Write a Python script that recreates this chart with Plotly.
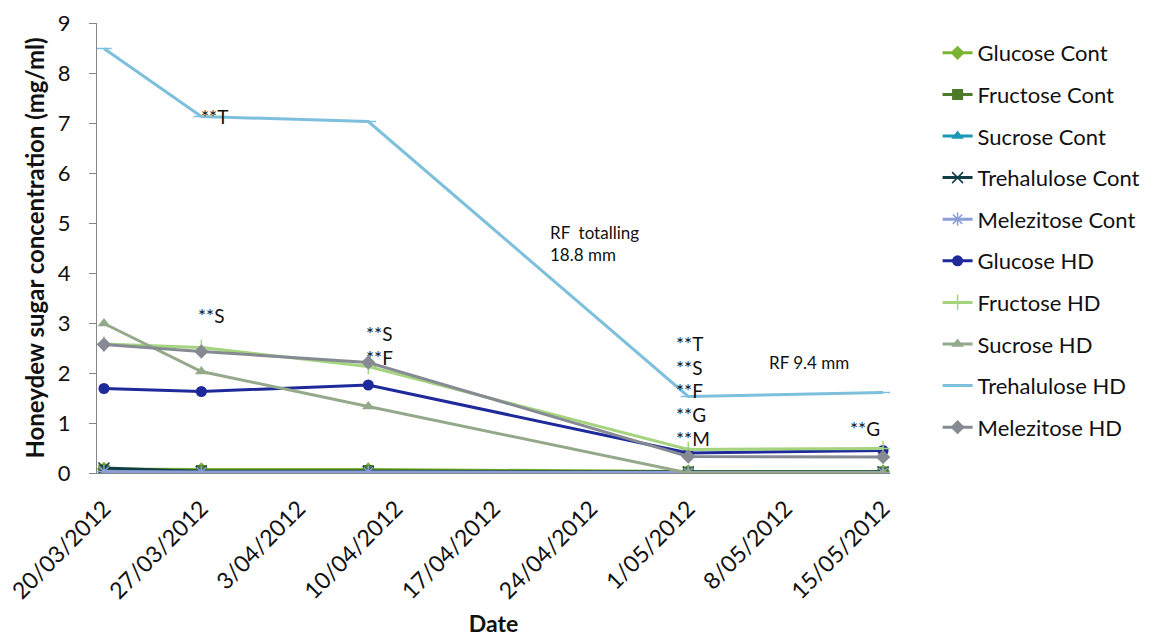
import plotly.graph_objects as go

# Sampling dates
dates = ["2012-03-20", "2012-03-27", "2012-04-08", "2012-05-01", "2012-05-15"]

# Honeydew sugar concentrations (mg/ml)
glucose_cont = [0.08, 0.07, 0.07, 0.03, 0.03]
fructose_cont = [0.06, 0.05, 0.05, 0.02, 0.02]
sucrose_cont = [0.0, 0.0, 0.0, 0.0, 0.0]
trehalulose_cont = [0.10, 0.03, 0.03, 0.02, 0.02]
melezitose_cont = [0.03, 0.02, 0.02, 0.01, 0.01]
glucose_hd = [1.69, 1.63, 1.76, 0.40, 0.45]
fructose_hd = [2.58, 2.51, 2.13, 0.47, 0.49]
sucrose_hd = [2.99, 2.03, 1.33, 0.0, 0.0]
trehalulose_hd = [8.49, 7.13, 7.03, 1.53, 1.61]
melezitose_hd = [2.57, 2.43, 2.21, 0.33, 0.32]

series_names = ["Glucose Cont", "Fructose Cont", "Sucrose Cont", "Trehalulose Cont",
                "Melezitose Cont", "Glucose HD", "Fructose HD", "Sucrose HD",
                "Trehalulose HD", "Melezitose HD"]
series_values = [glucose_cont, fructose_cont, sucrose_cont, trehalulose_cont,
                 melezitose_cont, glucose_hd, fructose_hd, sucrose_hd,
                 trehalulose_hd, melezitose_hd]
series_colors = ["#7ab432", "#4b7a28", "#1a98b8", "#113d47", "#8c9ed6",
                 "#1f2a9a", "#a5d47f", "#94a98a", "#7ec0dc", "#858a93"]
series_symbols = ["diamond", "square", "triangle-up", "x-thin-open", "asterisk-open",
                  "circle", "cross-thin-open", "triangle-up", "line-ew-open", "diamond"]

# Significance notes: (date, y, text, anchor, horizontal shift in px)
notes = [
    ("2012-03-27", 7.14, "**T", "left", -2),
    ("2012-03-27", 3.16, "**S", "left", -5),
    ("2012-04-08", 2.80, "**S", "left", -4),
    ("2012-04-08", 2.32, "**F", "left", -4),
    ("2012-05-01", 2.60, "**T", "left", -14),
    ("2012-05-01", 2.12, "**S", "left", -14),
    ("2012-05-01", 1.66, "**F", "left", -14),
    ("2012-05-01", 1.17, "**G", "left", -14),
    ("2012-05-01", 0.69, "**M", "left", -14),
    ("2012-05-15", 0.90, "**G", "right", -1),
]

# Rainfall notes
rain_notes = [
    ("2012-04-20 22:00", 4.59, "RF  totalling<br>18.8 mm", "left"),
    ("2012-05-09 17:00", 2.22, "RF 9.4 mm", "center"),
]

tick_dates = ["2012-03-20", "2012-03-27", "2012-04-03", "2012-04-10", "2012-04-17",
              "2012-04-24", "2012-05-01", "2012-05-08", "2012-05-15"]

FONT = "Lato"
TXT = "#111111"

fig = go.Figure()
for name, vals, col, sym in zip(series_names, series_values, series_colors, series_symbols):
    open_sym = sym.endswith("-open")
    fig.add_trace(go.Scatter(
        x=dates, y=vals, name=name, mode="lines+markers",
        legendgroup=name,
        line=dict(color=col, width=3),
        marker=dict(symbol=sym, size=11, color=col,
                    line=dict(color=col, width=1.5 if open_sym else 0)),
    ))

for d, y, t, anc, shift in notes:
    fig.add_annotation(x=d, y=y, text=t, showarrow=False, xanchor=anc,
                       yanchor="middle", xshift=shift,
                       font=dict(family=FONT, size=19, color=TXT))
for d, y, t, anc in rain_notes:
    fig.add_annotation(x=d, y=y, text=t, showarrow=False, xanchor=anc,
                       yanchor="middle", align="left",
                       font=dict(family=FONT, size=17, color=TXT))

fig.update_layout(
    width=1159, height=637,
    margin=dict(l=97, r=269, t=23, b=164),
    paper_bgcolor="white", plot_bgcolor="white",
    font=dict(family=FONT, color=TXT),
    legend=dict(x=1.06, y=0.98, xanchor="left", yanchor="top",
                traceorder="grouped", tracegroupgap=10,
                font=dict(family=FONT, size=22, color=TXT),
                itemwidth=30, bgcolor="rgba(0,0,0,0)"),
    xaxis=dict(
        type="date", automargin=False,
        range=["2012-03-19 12:00", "2012-05-15 12:00"],
        tickvals=tick_dates, tickformat="%-d/%m/%Y",
        tickangle=-45, tickfont=dict(family=FONT, size=23, color=TXT),
        ticklabelstandoff=12,
        showgrid=False, zeroline=False,
        showline=True, linecolor="#868686", linewidth=1,
        title=dict(text="<b>Date</b>", font=dict(family=FONT, size=23, color=TXT),
                   standoff=12),
    ),
    yaxis=dict(
        range=[0, 9], dtick=1, tick0=0, automargin=False,
        showgrid=False, zeroline=False,
        showline=True, linecolor="#868686", linewidth=1,
        ticks="outside", ticklen=7, tickcolor="#868686",
        ticklabelstandoff=14,
        tickfont=dict(family=FONT, size=22, color=TXT),
        title=dict(text="<b>Honeydew sugar concentration (mg/ml)</b>",
                   font=dict(family=FONT, size=24, color=TXT), standoff=6),
    ),
)

fig.write_html("out.html")
